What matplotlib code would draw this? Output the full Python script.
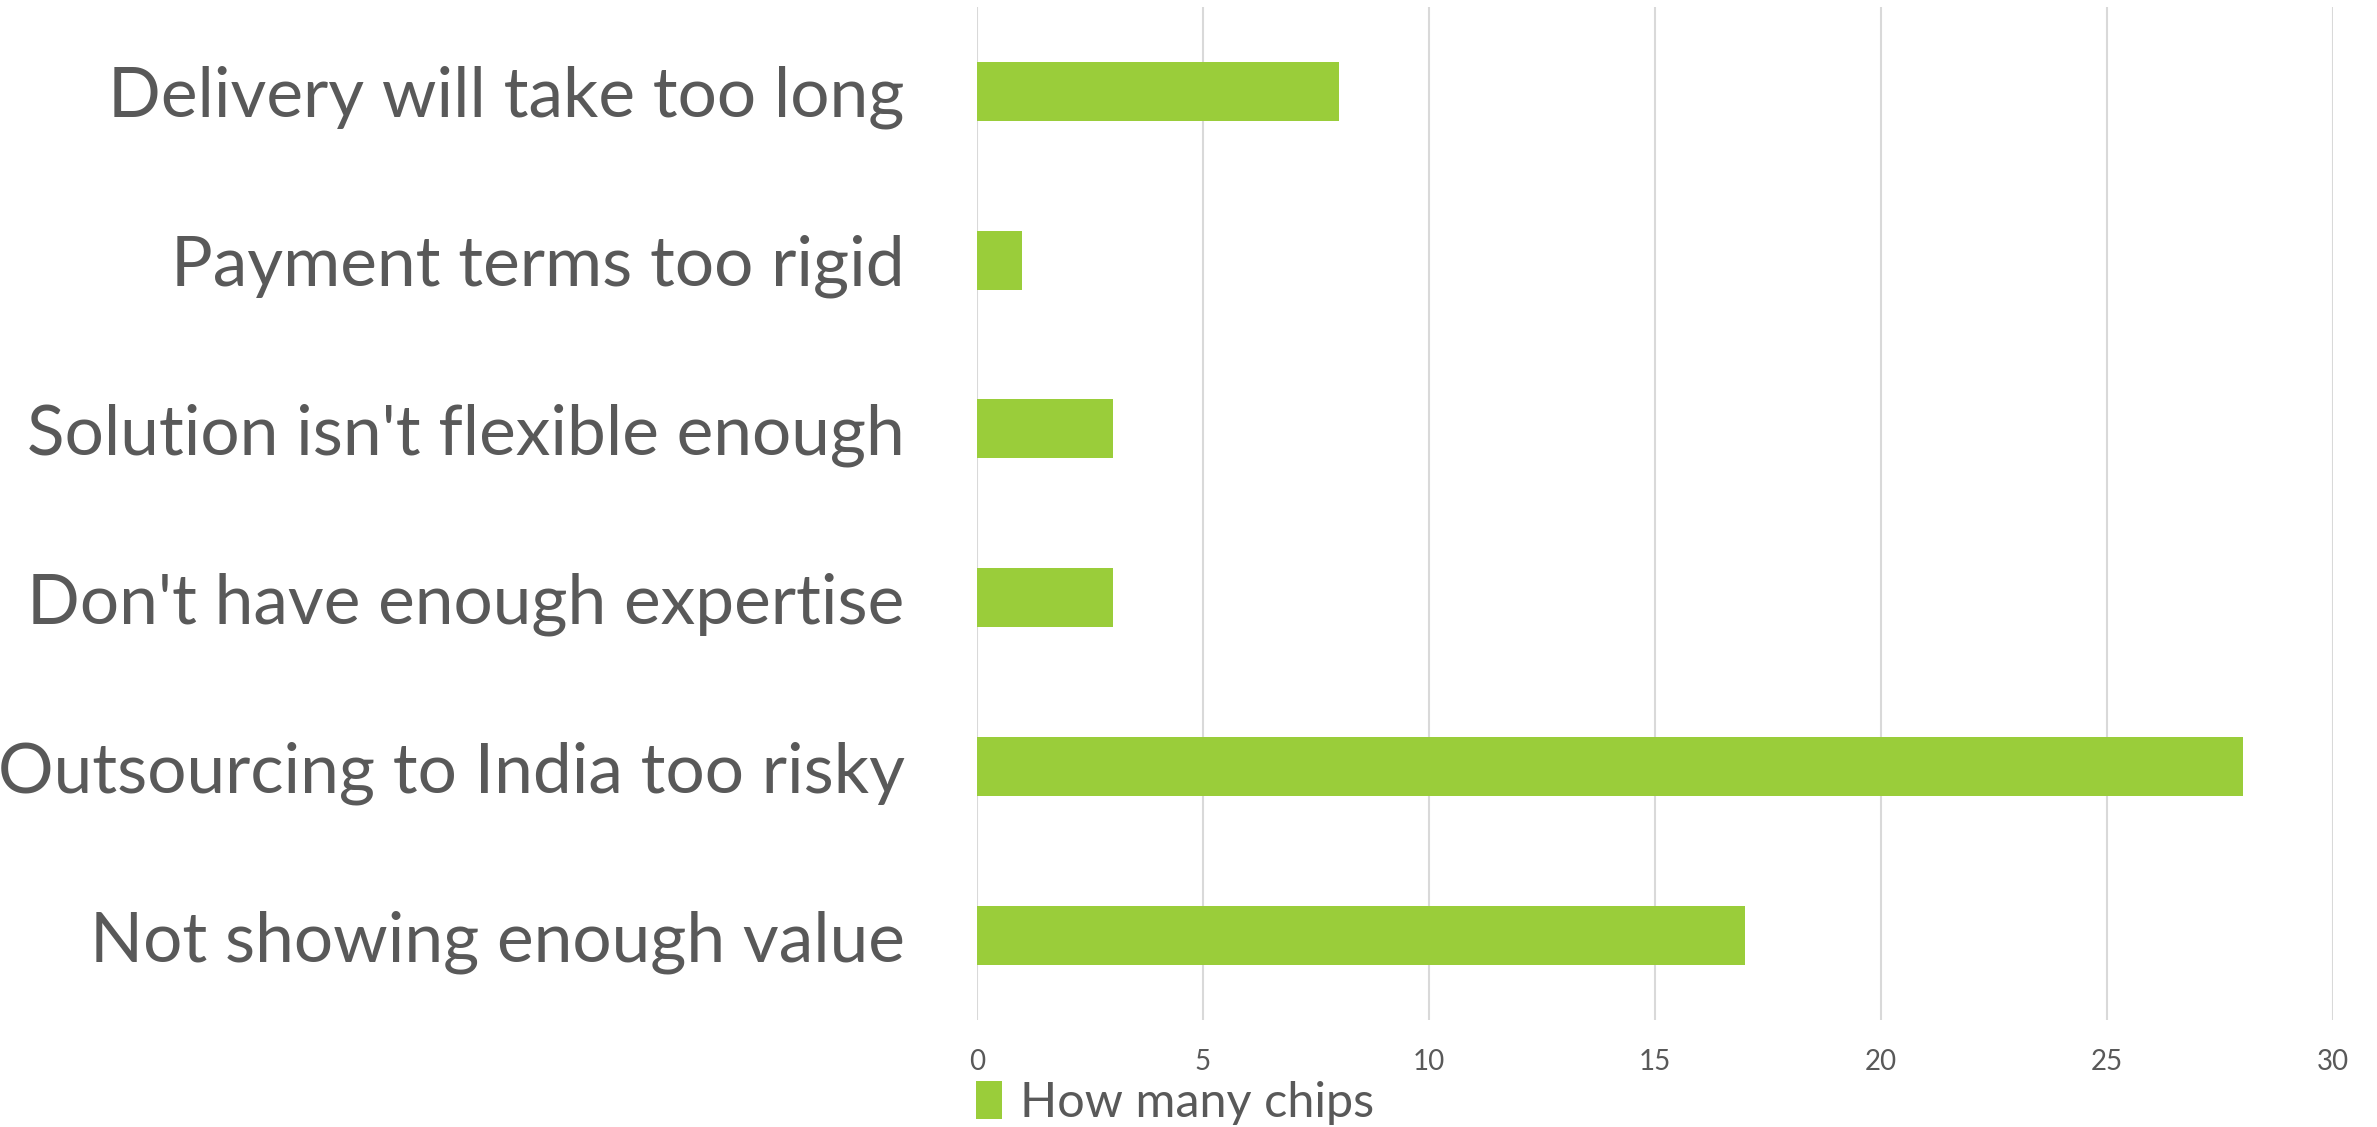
import matplotlib.pyplot as plt
from matplotlib.patches import Patch

# reasons a deal was lost, top to bottom as shown
reasons = [
    "Delivery will take too long",
    "Payment terms too rigid",
    "Solution isn't flexible enough",
    "Don't have enough expertise",
    "Outsourcing to India too risky",
    "Not showing enough value",
]
chips = [8, 1, 3, 3, 28, 17]
x_ticks = [0, 5, 10, 15, 20, 25, 30]

bar_color = '#9acd3a'
text_color = '#595959'
grid_color = '#d9d9d9'

plt.rcParams['font.family'] = ['Lato', 'DejaVu Sans']

fig = plt.figure(figsize=(23.77, 11.27), dpi=100)
ax = fig.add_axes([0.411, 0.095, 0.5705, 0.899])

ypos = list(range(len(reasons)))
ax.barh(ypos, chips, height=0.35, color=bar_color, zorder=3)

ax.set_ylim(len(reasons) - 0.5, -0.5)
ax.set_xlim(0, 30)
ax.set_xticks(x_ticks)
ax.set_yticks(ypos)
ax.set_yticklabels(reasons, fontsize=50, color=text_color)
ax.tick_params(axis='y', length=0, pad=52)
ax.tick_params(axis='x', length=0, pad=21, labelsize=20, labelcolor=text_color)

ax.grid(axis='x', color=grid_color, linewidth=1.5, zorder=0)
for s in ax.spines.values():
    s.set_visible(False)

handle = Patch(facecolor=bar_color, edgecolor='none', label='How many chips')
fig.legend(handles=[handle], loc='lower left', bbox_to_anchor=(0.4105, 0.002),
           frameon=False, fontsize=35, labelcolor=text_color, borderpad=0,
           borderaxespad=0, handlelength=0.55, handleheight=0.85, handletextpad=0.35)

fig.savefig('out.png', dpi=100)
